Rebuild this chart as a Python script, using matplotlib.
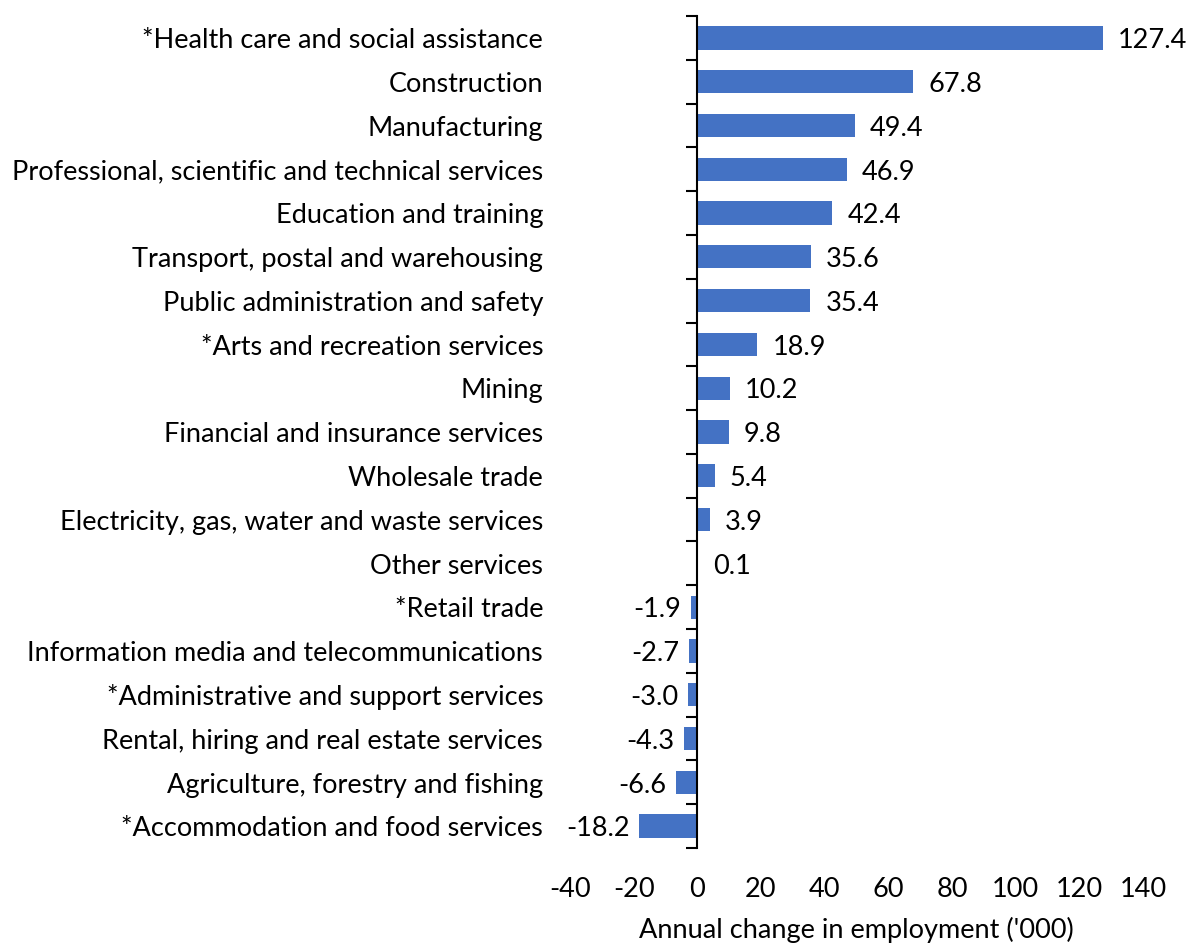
import matplotlib
matplotlib.use("Agg")
import matplotlib.pyplot as plt
import numpy as np
from matplotlib.ticker import FixedLocator
import matplotlib.transforms as mtransforms

plt.rcParams['font.family'] = ['Lato', 'DejaVu Sans']

industries = [
    "*Health care and social assistance",
    "Construction",
    "Manufacturing",
    "Professional, scientific and technical services",
    "Education and training",
    "Transport, postal and warehousing",
    "Public administration and safety",
    "*Arts and recreation services",
    "Mining",
    "Financial and insurance services",
    "Wholesale trade",
    "Electricity, gas, water and waste services",
    "Other services",
    "*Retail trade",
    "Information media and telecommunications",
    "*Administrative and support services",
    "Rental, hiring and real estate services",
    "Agriculture, forestry and fishing",
    "*Accommodation and food services",
]
change = [127.4, 67.8, 49.4, 46.9, 42.4, 35.6, 35.4, 18.9, 10.2, 9.8,
          5.4, 3.9, 0.1, -1.9, -2.7, -3.0, -4.3, -6.6, -18.2]
x_ticks = [-40, -20, 0, 20, 40, 60, 80, 100, 120, 140]

BAR_COLOR = "#4472C4"
FS = 19.5

fig = plt.figure(figsize=(11.89, 9.45), dpi=100)
ax = fig.add_axes([0.4794, 0.1016, 0.9613 - 0.4794, 0.982 - 0.1016])

y = np.arange(len(industries))
ax.barh(y, change, height=0.53, color=BAR_COLOR, zorder=2)

ax.set_xlim(-40, 140)
ax.set_ylim(len(industries) - 0.5, -0.5)

# vertical axis line sits at zero, with tick marks between categories
for s in ("top", "right", "bottom"):
    ax.spines[s].set_visible(False)
ax.spines["left"].set_position(("data", 0))
ax.spines["left"].set_linewidth(1.5)
ax.spines["left"].set_color("black")
ax.yaxis.set_major_locator(FixedLocator(np.arange(len(industries) + 1) - 0.5))
ax.set_yticklabels([])
ax.tick_params(axis="y", which="major", direction="out", length=8, width=1.5,
               color="black")

ax.set_xticks(x_ticks)
ax.set_xticklabels([str(t) for t in x_ticks])
ax.tick_params(axis="x", length=0, pad=20, labelsize=FS)

# category names at the left edge of the plot area
trans = mtransforms.blended_transform_factory(ax.transAxes, ax.transData)
for yi, name in zip(y, industries):
    ax.text(-0.047, yi + 0.04, name, transform=trans, ha="right", va="center",
            fontsize=FS)

# value labels at the outer end of each bar
for yi, v in zip(y, change):
    if v >= 0:
        ax.annotate(f"{v:.1f}", (v, yi + 0.04), xytext=(11, 0),
                    textcoords="offset points", ha="left", va="center",
                    fontsize=FS)
    else:
        ax.annotate(f"{v:.1f}", (v, yi + 0.04), xytext=(-7, 0),
                    textcoords="offset points", ha="right", va="center",
                    fontsize=FS)

ax.set_xlabel("Annual change in employment ('000)", fontsize=FS, labelpad=11)

fig.savefig("out.png", dpi=100)
